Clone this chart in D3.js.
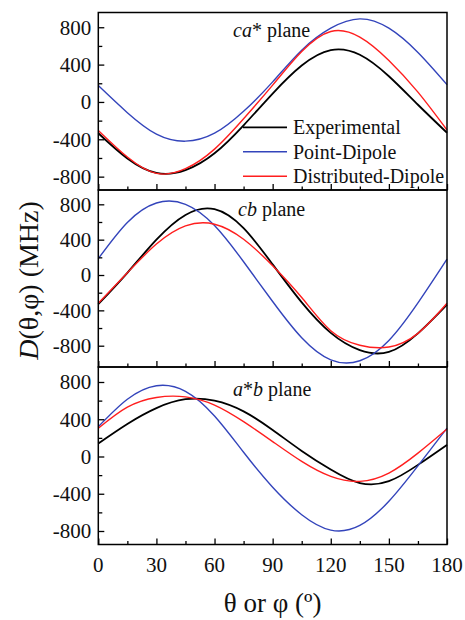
<!DOCTYPE html>
<html>
<head>
<meta charset="utf-8">
<script src="https://cdn.jsdelivr.net/npm/d3@7"></script>
<style>
  body { margin: 0; background: #fff; }
  svg { display: block; }
  svg text { font-family: "Liberation Serif", "DejaVu Serif", serif; fill: #111; }
</style>
</head>
<body>
<svg width="465" height="620"></svg>
<script>
// angles in degrees
const angles = [0, 15, 30, 45, 60, 75, 90, 105, 120, 135, 150, 165, 180];

// ca* plane
const caExp   = [-335, -605, -760, -730, -550, -250, 90, 390, 555, 505, 275, -30, -330];
const caPoint = [175, -115, -345, -420, -335, -100, 215, 555, 790, 890, 790, 530, 185];
const caDist  = [-305, -590, -765, -715, -505, -180, 180, 540, 755, 695, 445, 105, -300];

// cb plane
const cbExp   = [-330, 25, 400, 680, 745, 530, 120, -310, -655, -850, -870, -660, -335];
const cbPoint = [185, 595, 815, 800, 560, 150, -300, -710, -960, -970, -740, -315, 180];
const cbDist  = [-320, 25, 350, 555, 575, 405, 105, -255, -630, -795, -815, -660, -320];

// a*b plane
const abExp   = [140, 350, 520, 615, 600, 485, 285, 60, -140, -285, -265, -90, 125];
const abPoint = [320, 615, 760, 700, 435, 45, -330, -625, -790, -740, -480, -100, 305];
const abDist  = [303, 530, 634, 640, 552, 374, 160, -53, -214, -267, -178, 36, 295];

const seriesNames = ["Experimental", "Point-Dipole", "Distributed-Dipole"];
const seriesColors = ["#000000", "#3344bb", "#ff1e1e"];
const seriesWidths = [1.8, 1.4, 1.4];

const xTicks = [0, 30, 60, 90, 120, 150, 180];
const xMinor = [15, 45, 75, 105, 135, 165];
const yTicks = [-800, -400, 0, 400, 800];
const yMinor = [-600, -200, 200, 600];

const panels = [
  { italic: "ca", rest: "* plane", series: [caExp, caPoint, caDist], domain: [-943, 958], top: 12.5, bottom: 190, lx: 233, ly: 37 },
  { italic: "cb", rest: " plane", series: [cbExp, cbPoint, cbDist], domain: [-1041, 962], top: 190, bottom: 367, lx: 238, ly: 216 },
  { italic: null, rest: null, series: [abExp, abPoint, abDist], domain: [-945, 961], top: 367, bottom: 544.5, lx: 233, ly: 396 }
];

const left = 98.3, right = 447;
const svg = d3.select("svg");
const x = d3.scaleLinear().domain([0, 180]).range([left, right]);

panels.forEach((p, i) => {
  const y = d3.scaleLinear().domain(p.domain).range([p.bottom, p.top]);
  const g = svg.append("g");

  // curves
  p.series.forEach((vals, k) => {
    const line = d3.line()
      .x((d, j) => x(angles[j]))
      .y(d => y(d))
      .curve(d3.curveNatural);
    g.append("path")
      .datum(vals)
      .attr("fill", "none")
      .attr("stroke", seriesColors[k])
      .attr("stroke-width", seriesWidths[k])
      .attr("d", line);
  });

  // y axis ticks (inward)
  g.append("g")
    .attr("transform", `translate(${left},0)`)
    .call(d3.axisRight(y).tickValues(yTicks).tickSize(6).tickFormat(""))
    .call(a => a.select(".domain").remove())
    .call(a => a.selectAll("line").attr("stroke-width", 1.3));
  g.append("g")
    .attr("transform", `translate(${left},0)`)
    .call(d3.axisRight(y).tickValues(yMinor).tickSize(4).tickFormat(""))
    .call(a => a.select(".domain").remove())
    .call(a => a.selectAll("line").attr("stroke-width", 1.3));

  // y tick labels
  g.selectAll("text.ylab")
    .data(yTicks)
    .enter()
    .append("text")
    .attr("class", "ylab")
    .attr("x", left - 7)
    .attr("y", d => y(d))
    .attr("dy", "0.35em")
    .attr("text-anchor", "end")
    .attr("font-size", "21px")
    .text(d => d);

  // x ticks (inward)
  g.append("g")
    .attr("transform", `translate(0,${p.bottom})`)
    .call(d3.axisTop(x).tickValues(xTicks).tickSize(6).tickFormat(""))
    .call(a => a.select(".domain").remove())
    .call(a => a.selectAll("line").attr("stroke-width", 1.3));
  g.append("g")
    .attr("transform", `translate(0,${p.bottom})`)
    .call(d3.axisTop(x).tickValues(xMinor).tickSize(3.5).tickFormat(""))
    .call(a => a.select(".domain").remove())
    .call(a => a.selectAll("line").attr("stroke-width", 1.3));

  // frame
  g.append("rect")
    .attr("x", left)
    .attr("y", p.top)
    .attr("width", right - left)
    .attr("height", p.bottom - p.top)
    .attr("fill", "none")
    .attr("stroke", "#000")
    .attr("stroke-width", 1.5);

  // panel label
  const lab = g.append("text")
    .attr("x", p.lx)
    .attr("y", p.ly)
    .attr("font-size", "20px");
  if (p.italic) {
    lab.append("tspan").attr("font-style", "italic").text(p.italic);
    lab.append("tspan").text(p.rest);
  } else {
    lab.append("tspan").attr("font-style", "italic").text("a");
    lab.append("tspan").text("*");
    lab.append("tspan").attr("font-style", "italic").text("b");
    lab.append("tspan").text(" plane");
  }
});

// x tick labels on the bottom panel
svg.selectAll("text.xlab")
  .data(xTicks)
  .enter()
  .append("text")
  .attr("class", "xlab")
  .attr("x", d => x(d))
  .attr("y", 572)
  .attr("text-anchor", "middle")
  .attr("font-size", "21px")
  .text(d => d);

// legend
const legend = svg.append("g");
seriesNames.forEach((name, k) => {
  const ly = 127.3 + k * 24.5;
  legend.append("line")
    .attr("x1", 243).attr("x2", 287)
    .attr("y1", ly).attr("y2", ly)
    .attr("stroke", seriesColors[k])
    .attr("stroke-width", seriesWidths[k]);
  legend.append("text")
    .attr("x", 293)
    .attr("y", ly + 7)
    .attr("font-size", "20px")
    .text(name);
});

// axis titles
svg.append("text")
  .attr("x", (left + right) / 2)
  .attr("y", 612)
  .attr("text-anchor", "middle")
  .attr("font-size", "27px")
  .text("θ or φ (º)");

const yt = svg.append("text")
  .attr("transform", `translate(38,${(12.5 + 544.5) / 2 + 2}) rotate(-90)`)
  .attr("text-anchor", "middle")
  .attr("font-size", "28px");
yt.append("tspan").attr("font-style", "italic").text("D");
yt.append("tspan").text("(θ,φ) (MHz)");
</script>
</body>
</html>
